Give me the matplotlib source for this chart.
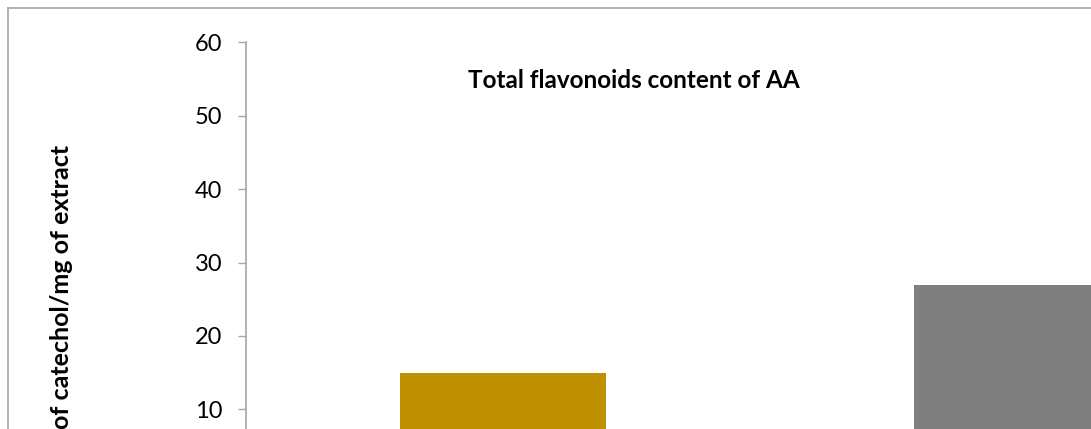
import matplotlib
matplotlib.use("Agg")
import matplotlib.pyplot as plt
from matplotlib.lines import Line2D

# Data
categories = ["Extract 1", "Extract 2"]
values = [15, 27]
bar_colors = ["#BF9000", "#7F7F7F"]
y_ticks = [0, 10, 20, 30, 40, 50, 60]
y_tick_labels = ["", "10", "20", "30", "40", "50", "60"]
title = "Total flavonoids content of AA"
y_label = "of catechol/mg of extract"

W, H = 1091, 429
fig = plt.figure(figsize=(W / 100, H / 100), dpi=100)
fig.patch.set_facecolor("white")

font = "Lato"

# axes placed so 60 is at y=42 px and 0 at ~483 px (below the crop)
left_px, top_px, bottom_px = 246, 42.3, 482.7
ax = fig.add_axes([left_px / W, 1 - bottom_px / H, 1 - left_px / W,
                   (bottom_px - top_px) / H])
x = list(range(len(categories)))
ax.bar(x, values, width=0.4, color=bar_colors, zorder=2)
ax.set_ylim(0, 60)
ax.set_xlim(-0.5, -0.5 + (W - left_px) / 514)
ax.set_yticks(y_ticks)
ax.set_yticklabels(y_tick_labels, fontsize=17, family=font, color="black")
ax.set_xticks([])
for s in ["top", "right", "bottom"]:
    ax.spines[s].set_visible(False)
ax.spines["left"].set_color("#a6a6a6")
ax.spines["left"].set_linewidth(1.2)
ax.tick_params(axis="y", direction="out", length=6, width=1.0, color="#a6a6a6", pad=11)

fig.text(634 / W, 1 - 81 / H, title, ha="center", va="center",
         fontsize=17.5, fontweight="bold", family=font)

fig.text(62 / W, 1 - 145 / H, y_label, rotation=90, ha="center", va="top",
         fontsize=18, fontweight="bold", family=font)

# outer chart frame (top and left edges visible)
frame_col = "#a6a6a6"
fig.add_artist(Line2D([8 / W, 1.0], [1 - 8 / H, 1 - 8 / H], transform=fig.transFigure,
                      color=frame_col, lw=1.2))
fig.add_artist(Line2D([8 / W, 8 / W], [1 - 8 / H, 0], transform=fig.transFigure,
                      color=frame_col, lw=1.2))

fig.savefig("out.png", dpi=100, facecolor="white")
